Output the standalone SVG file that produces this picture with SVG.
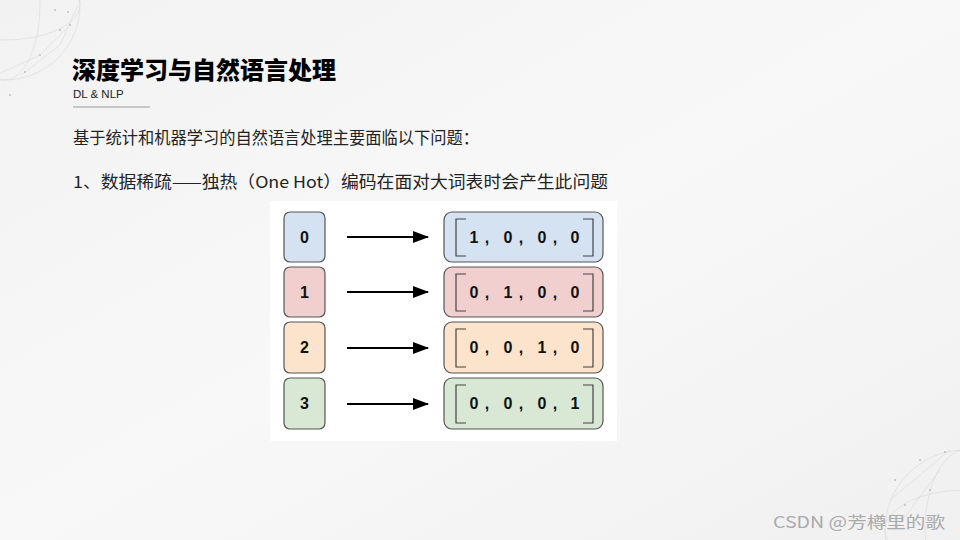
<svg xmlns="http://www.w3.org/2000/svg" width="960" height="540" viewBox="0 0 960 540">
<defs>
<linearGradient id="bg" x1="0" y1="0" x2="1" y2="1">
<stop offset="0" stop-color="#f2f2f2"/>
<stop offset="0.5" stop-color="#f8f8f8"/>
<stop offset="1" stop-color="#f0f0f0"/>
</linearGradient>
<marker id="ah" markerWidth="16" markerHeight="12" refX="15" refY="6" orient="auto" markerUnits="userSpaceOnUse">
<path d="M0,0 L16,6 L0,12 Z" fill="#000"/>
</marker>
<style>
.cjk{font-family:"Noto Sans CJK SC","Noto Sans",sans-serif;}
.lbl{font-family:"Liberation Sans",Arial,sans-serif;font-weight:bold;fill:#111;text-anchor:middle;}
.vec{font-family:"Liberation Sans",Arial,sans-serif;font-weight:bold;font-size:16px;fill:#111;text-anchor:middle;}
.box{stroke:#555;stroke-width:1.2;}
.brk{fill:none;stroke:#444;stroke-width:1.2;}
.arr{stroke:#000;stroke-width:2.2;marker-end:url(#ah);}
.globe{fill:none;stroke:#d0d0d0;stroke-width:0.6;}
.dot{fill:#aaa;}
</style>
</defs>
<rect width="960" height="540" fill="url(#bg)"/>
<g id="globe-tl" opacity="0.7">
<circle class="globe" cx="5" cy="5" r="75"/>
<ellipse class="globe" cx="5" cy="5" rx="35" ry="75"/>
<ellipse class="globe" cx="5" cy="5" rx="75" ry="35"/>
<path class="globe" d="M-10,78 L40,55 L70,25 M20,76 L60,45 L78,5"/>
<circle class="dot" cx="40" cy="55" r="1"/><circle class="dot" cx="60" cy="30" r="1"/><circle class="dot" cx="70" cy="25" r="1"/><circle class="dot" cx="25" cy="72" r="1"/><circle class="dot" cx="55" cy="10" r="1"/><circle class="dot" cx="68" cy="12" r="1"/><circle class="dot" cx="10" cy="95" r="1"/>
</g>
<g id="globe-br" opacity="0.7">
<circle class="globe" cx="965" cy="530" r="80"/>
<ellipse class="globe" cx="965" cy="530" rx="40" ry="80"/>
<ellipse class="globe" cx="965" cy="530" rx="80" ry="40"/>
<path class="globe" d="M890,500 L950,450 M895,530 L940,470"/>
<circle class="dot" cx="895" cy="480" r="1"/><circle class="dot" cx="920" cy="460" r="1"/><circle class="dot" cx="945" cy="452" r="1"/><circle class="dot" cx="905" cy="505" r="1"/><circle class="dot" cx="930" cy="490" r="1"/>
</g>
<g id="header">
<text x="72" y="79" class="cjk" font-size="24" font-weight="900" fill="#000">深度学习与自然语言处理</text>
<text x="73" y="98" font-family="Liberation Sans, Arial, sans-serif" font-size="11.5" fill="#222">DL &amp; NLP</text>
<line x1="73" y1="107" x2="150" y2="107" stroke="#999" stroke-width="1"/>
</g>
<g id="body-text">
<text x="73" y="144" class="cjk" font-size="16.5" fill="#222" textLength="406" lengthAdjust="spacingAndGlyphs">基于统计和机器学习的自然语言处理主要面临以下问题：</text>
<text x="73" y="188" class="cjk" font-size="16.5" fill="#222" textLength="535" lengthAdjust="spacingAndGlyphs">1、数据稀疏——独热（One Hot）编码在面对大词表时会产生此问题</text>
</g>
<rect x="270" y="201" width="347" height="240" fill="#fff"/>
<g id="n0">
<rect class="box" x="284" y="212" width="41" height="50" rx="6" fill="#d4e2f2"/>
<text class="lbl" x="304.5" y="243" font-size="16">0</text>
</g>
<g id="n1">
<rect class="box" x="284" y="267" width="41" height="50" rx="6" fill="#f2cfcf"/>
<text class="lbl" x="304.5" y="298" font-size="16">1</text>
</g>
<g id="n2">
<rect class="box" x="284" y="322" width="41" height="51" rx="6" fill="#fbe3cc"/>
<text class="lbl" x="304.5" y="353" font-size="16">2</text>
</g>
<g id="n3">
<rect class="box" x="284" y="378" width="41" height="51" rx="6" fill="#d9e8d4"/>
<text class="lbl" x="304.5" y="409" font-size="16">3</text>
</g>
<g id="v0">
<rect class="box" x="444" y="212" width="159" height="50" rx="8" fill="#d4e2f2"/>
<path class="brk" d="M466,219 L456,219 L456,256 L466,256 M583,219 L593,219 L593,256 L583,256"/>
<text class="vec" y="243"><tspan x="474">1</tspan><tspan x="487">,</tspan><tspan x="508">0</tspan><tspan x="521">,</tspan><tspan x="542">0</tspan><tspan x="555">,</tspan><tspan x="575">0</tspan></text>
</g>
<g id="v1">
<rect class="box" x="444" y="267" width="159" height="50" rx="8" fill="#f2cfcf"/>
<path class="brk" d="M466,274 L456,274 L456,311 L466,311 M583,274 L593,274 L593,311 L583,311"/>
<text class="vec" y="298"><tspan x="474">0</tspan><tspan x="487">,</tspan><tspan x="508">1</tspan><tspan x="521">,</tspan><tspan x="542">0</tspan><tspan x="555">,</tspan><tspan x="575">0</tspan></text>
</g>
<g id="v2">
<rect class="box" x="444" y="322" width="159" height="51" rx="8" fill="#fbe3cc"/>
<path class="brk" d="M466,329 L456,329 L456,367 L466,367 M583,329 L593,329 L593,367 L583,367"/>
<text class="vec" y="353"><tspan x="474">0</tspan><tspan x="487">,</tspan><tspan x="508">0</tspan><tspan x="521">,</tspan><tspan x="542">1</tspan><tspan x="555">,</tspan><tspan x="575">0</tspan></text>
</g>
<g id="v3">
<rect class="box" x="444" y="378" width="159" height="51" rx="8" fill="#d9e8d4"/>
<path class="brk" d="M466,385 L456,385 L456,423 L466,423 M583,385 L593,385 L593,423 L583,423"/>
<text class="vec" y="409"><tspan x="474">0</tspan><tspan x="487">,</tspan><tspan x="508">0</tspan><tspan x="521">,</tspan><tspan x="542">0</tspan><tspan x="555">,</tspan><tspan x="575">1</tspan></text>
</g>
<g id="connectors">
<line class="arr" x1="347" y1="237" x2="428" y2="237"/>
<line class="arr" x1="347" y1="292" x2="428" y2="292"/>
<line class="arr" x1="347" y1="348" x2="428" y2="348"/>
<line class="arr" x1="347" y1="404" x2="428" y2="404"/>
</g>
<text x="773" y="528" class="cjk" font-size="16" fill="#aaa" textLength="172" lengthAdjust="spacingAndGlyphs">CSDN @芳樽里的歌</text>
</svg>
